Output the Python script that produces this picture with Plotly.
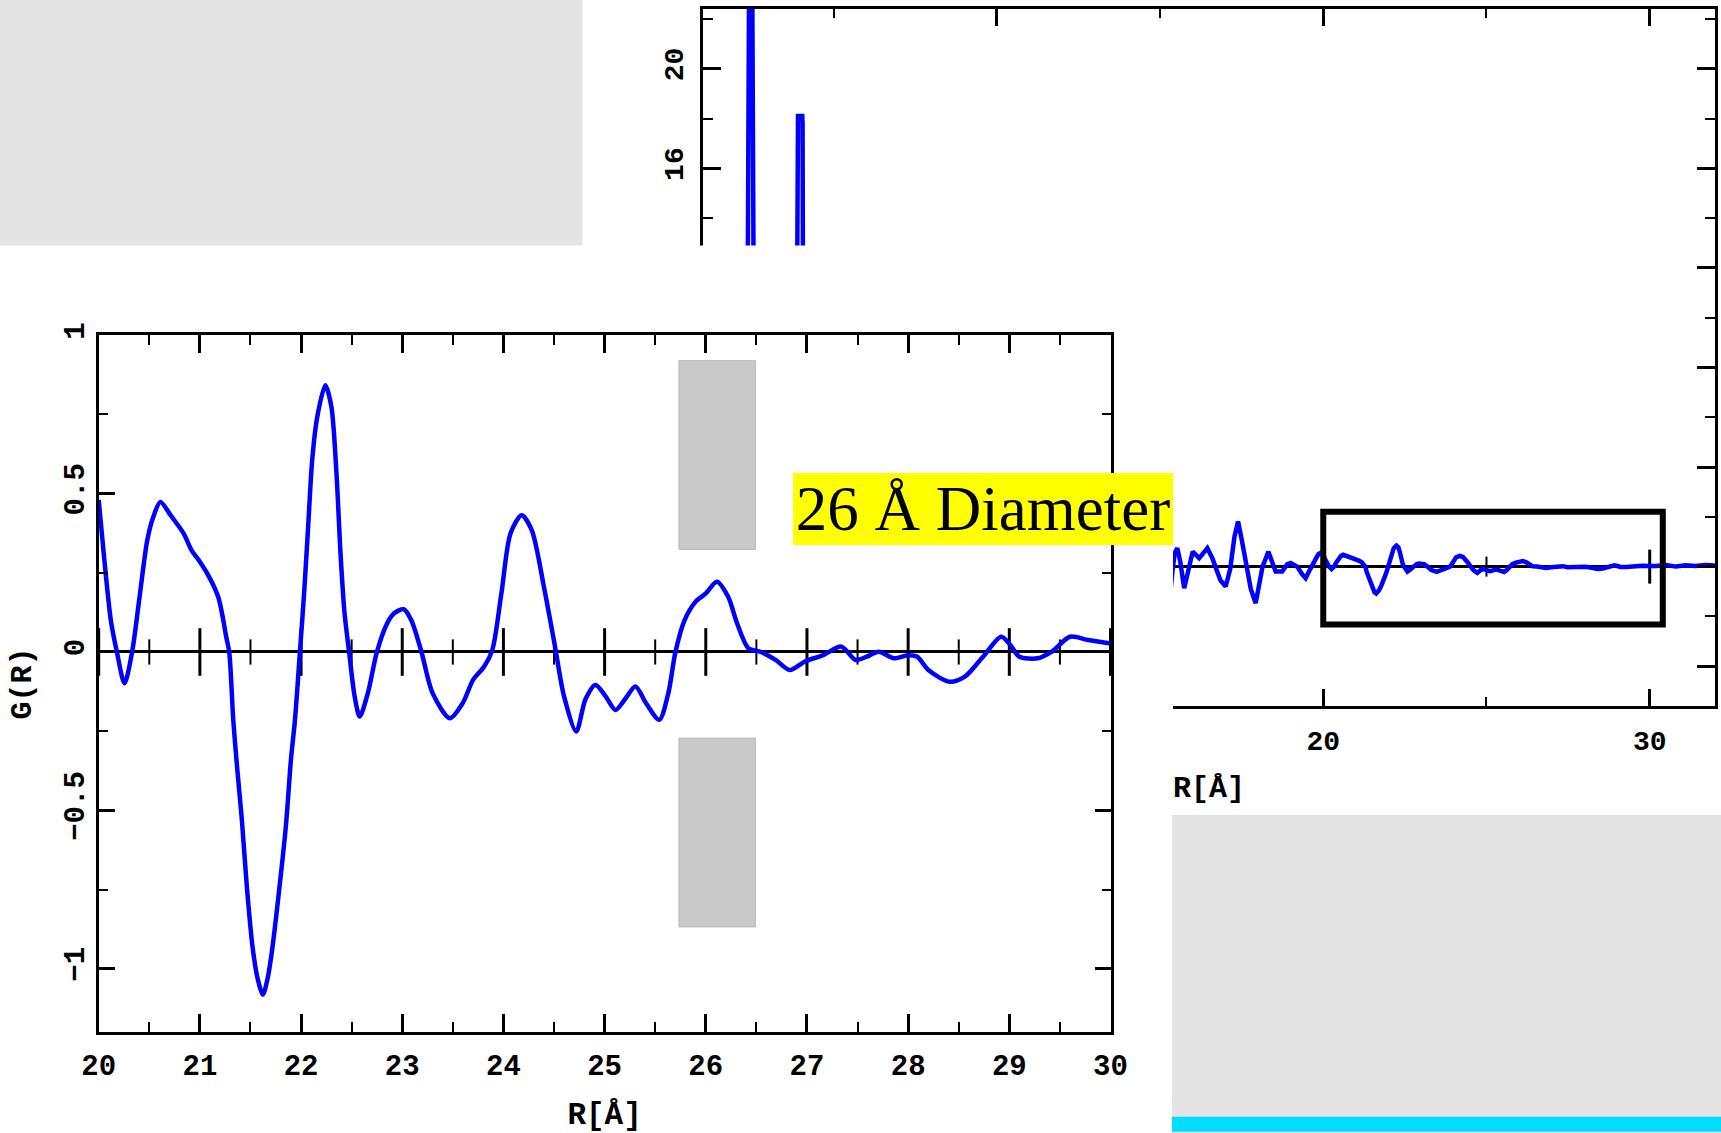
import plotly.graph_objects as go

# ---------------------------------------------------------------
# Pair distribution function G(R) of a 26 Å nanoparticle
# ---------------------------------------------------------------

# short range (1 - 15.3 Å)
r_short = [1.0, 1.8, 2.2, 2.30, 2.375, 2.40, 2.42, 2.50, 2.52, 2.545, 2.62, 2.7, 2.85, 3.2,
           3.6, 3.80, 3.89, 3.90, 3.91, 4.04, 4.05, 4.06, 4.14, 4.3, 4.6, 4.95, 5.3, 5.7,
           6.1, 6.5, 6.9, 7.25, 7.6, 8.1, 8.5, 8.8, 9.3, 9.8, 10.3, 10.8, 11.3, 11.8, 12.3,
           12.8, 13.3, 13.8, 14.3, 14.8, 15.3]
g_short = [-3.0, -4.5, -3.5, 0.0, 13.0, 19.7, 26.0, 26.0, 19.0, 13.0, 0.0, -1.5, 2.0, -2.0,
           -1.0, 0.0, 13.0, 16.9, 18.1, 18.1, 17.8, 13.0, 0.0, -1.5, 1.0, 8.5, -1.0, 2.5,
           -1.5, 5.0, -1.0, 4.0, -1.5, 3.0, -2.0, 2.5, -1.5, 2.0, -1.2, 1.5, -1.0, 1.5, -1.2,
           1.0, -0.8, 0.9, -0.7, 0.8, -1.25]

# intermediate range (15.3 - 20 Å)
r_mid = [15.38, 15.45, 15.53, 15.62, 15.74, 15.86, 16.0, 16.2, 16.45, 16.6, 16.71, 16.85,
         17.01, 17.15, 17.28, 17.39, 17.5, 17.63, 17.78, 17.93, 18.05, 18.14, 18.32, 18.45,
         18.54, 18.74, 18.9, 19.0, 19.2, 19.35, 19.46, 19.6, 19.72, 19.85, 19.93]
g_mid = [-0.2, 0.55, 0.74, 0.2, -0.87, -0.1, 0.6, 0.34, 0.74, 0.35, 0.0, -0.55,
         -0.8, -0.1, 1.2, 1.81, 1.1, 0.15, -0.9, -1.47, -0.7, 0.0, 0.6, 0.15,
         -0.2, -0.2, 0.1, 0.15, 0.0, -0.3, -0.47, -0.1, 0.2, 0.5, 0.56]

# enlarged window (20 - 30 Å)
r_zoom = [20.00, 20.05, 20.12, 20.18, 20.255, 20.33, 20.40, 20.48, 20.54, 20.61, 20.71,
          20.84, 20.92, 21.00, 21.09, 21.18, 21.22, 21.26, 21.29, 21.33, 21.37, 21.415,
          21.464, 21.52, 21.57, 21.623, 21.67, 21.71, 21.77, 21.85, 21.90, 21.94, 21.99,
          22.03, 22.07, 22.11, 22.16, 22.24, 22.30, 22.35, 22.39, 22.43, 22.475, 22.53,
          22.58, 22.66, 22.75, 22.85, 22.92, 23.015, 23.09, 23.19, 23.30, 23.47, 23.60,
          23.70, 23.81, 23.89, 23.98, 24.07, 24.18, 24.28, 24.40, 24.51, 24.60, 24.72,
          24.81, 24.91, 25.01, 25.107, 25.2, 25.305, 25.41, 25.54, 25.63, 25.70, 25.79,
          25.90, 26.00, 26.11, 26.22, 26.31, 26.42, 26.545, 26.69, 26.83, 26.98, 27.16,
          27.34, 27.48, 27.59, 27.71, 27.86, 28.00, 28.09, 28.20, 28.41, 28.56, 28.74,
          28.92, 29.01, 29.10, 29.28, 29.42, 29.60, 29.78, 30.00]
g_zoom = [0.48, 0.31, 0.10, 0.0, -0.099, 0.0, 0.164, 0.353, 0.427, 0.474, 0.432,
          0.374, 0.32, 0.285, 0.238, 0.175, 0.12, 0.048, 0.0, -0.2145, -0.372, -0.53,
          -0.74, -0.93, -1.03, -1.082, -1.03, -0.95, -0.79, -0.55, -0.34, -0.214, 0.006,
          0.185, 0.395, 0.606, 0.742, 0.842, 0.774, 0.564, 0.311, 0.122, 0.0, -0.141,
          -0.204, -0.13, 0.0, 0.09, 0.122, 0.135, 0.10, 0.0, -0.13, -0.209, -0.16,
          -0.088, -0.046, 0.006, 0.185, 0.374, 0.432, 0.385, 0.206, 0.017, -0.141, -0.251,
          -0.15, -0.104, -0.14, -0.183, -0.15, -0.109, -0.162, -0.214, -0.13, 0.0, 0.10,
          0.159, 0.185, 0.222, 0.175, 0.09, 0.012, 0.0, -0.025, -0.057, -0.03, -0.01,
          0.017, -0.025, -0.015, 0.001, -0.02, -0.01, -0.015, -0.057, -0.094, -0.078, -0.015,
          0.048, 0.022, -0.015, -0.02, 0.001, 0.048, 0.038, 0.027]

# long range tail (30 - 32 Å)
r_tail = [30.2, 30.5, 30.8, 31.1, 31.4, 31.7, 32.0]
g_tail = [0.02, 0.06, 0.0, 0.05, 0.02, 0.06, 0.04]

label_text = "26 Å Diameter"
x_title = "R[Å]"
y_title = "G(R)"

r_full = r_short + r_mid + r_zoom + r_tail
g_full = g_short + g_mid + g_zoom + g_tail

# ---------------------------------------------------------------
W, H = 1721, 1133


def fx(px):
    return px / W


def fy(py):
    return 1 - py / H


MONO = "Courier New, Liberation Mono, monospace"
SERIF = "Times New Roman, Liberation Serif, serif"
BLUE = "#0000ff"

big_range = [1, 32]
big_yrange = [-5.6, 22.4]
zoom_range = [20, 30]
zoom_yrange = [-1.2, 1.001]

# panel frames in page pixels (left, right, top, bottom)
BIG_BOX = (703, 1715, 9, 706)
ZOOM_BOX = (98.7, 1110.5, 335, 1032)


def framed(**kw):
    base = dict(showline=True, linecolor="black", linewidth=3, mirror="allticks",
                ticks="inside", tickcolor="black", tickwidth=3, showgrid=False,
                zeroline=False, automargin=False,
                tickfont=dict(family=MONO, size=29, color="black", weight="bold"))
    base.update(kw)
    return base


def tick_positions(start, stop, step):
    n = int(round((stop - start) / step))
    return [start + i * step for i in range(n + 1)]


fig = go.Figure()

# full-range curve
fig.add_trace(go.Scatter(x=r_full, y=g_full, mode="lines", xaxis="x", yaxis="y",
                         line=dict(color=BLUE, width=4.5), showlegend=False, hoverinfo="skip"))
# blank sheet laid over the lower-left part of the full-range panel
fig.add_trace(go.Scatter(x=[0.5], y=[0.5], mode="markers", xaxis="x2", yaxis="y2",
                         marker=dict(opacity=0), showlegend=False, hoverinfo="skip"))

# tick marks crossing the G=0 line of the enlarged panel (major every 1 Å, minor every 0.5 Å)
zt_major = tick_positions(20, 30, 1)
zt_minor = [t + 0.5 for t in tick_positions(20, 29, 1)]
for ticks_at, size, width in ((zt_major, 34, 3), (zt_minor, 18, 2)):
    fig.add_trace(go.Scatter(x=ticks_at, y=[0] * len(ticks_at), mode="markers",
                             xaxis="x3", yaxis="y3", cliponaxis=False,
                             marker=dict(symbol="line-ns", size=size, color="black",
                                         line=dict(color="black", width=width)),
                             showlegend=False, hoverinfo="skip"))

# enlarged 20-30 Å window
fig.add_trace(go.Scatter(x=r_zoom, y=g_zoom, mode="lines", xaxis="x3", yaxis="y3",
                         line=dict(color=BLUE, width=4.5, shape="spline", smoothing=0.8),
                         showlegend=False, hoverinfo="skip"))

fig.update_layout(
    width=W, height=H, autosize=False,
    margin=dict(l=0, r=0, t=0, b=0, pad=0),
    paper_bgcolor="white", plot_bgcolor="white",
    template="none", showlegend=False,
    # full-range panel
    xaxis=framed(domain=[fx(BIG_BOX[0]), fx(BIG_BOX[1])], range=big_range, anchor="y",
                 dtick=10, tick0=0, ticklen=17, ticklabelstandoff=7,
                 tickfont=dict(family=MONO, size=28, color="black", weight="bold"),
                 minor=dict(ticks="inside", ticklen=9, tickwidth=2, tickcolor="black",
                            dtick=5, showgrid=False),
                 title=dict(text=x_title, standoff=20,
                            font=dict(family=MONO, size=30, color="black", weight="bold"))),
    yaxis=framed(domain=[fy(BIG_BOX[3]), fy(BIG_BOX[2])], range=big_yrange, anchor="x",
                 dtick=4, tick0=0, ticklen=18, tickangle=-90, ticklabelstandoff=6,
                 zeroline=True, zerolinecolor="black", zerolinewidth=3,
                 tickfont=dict(family=MONO, size=28, color="black", weight="bold"),
                 minor=dict(ticks="inside", ticklen=10, tickwidth=2, tickcolor="black",
                            dtick=2, showgrid=False)),
    # blank sheet
    xaxis2=dict(domain=[0, fx(1173)], range=[0, 1], visible=False, anchor="y2"),
    yaxis2=dict(domain=[0, fy(245.5)], range=[0, 1], visible=False, anchor="x2"),
    # enlarged panel
    xaxis3=framed(domain=[fx(ZOOM_BOX[0]), fx(ZOOM_BOX[1])], range=zoom_range, anchor="y3",
                  dtick=1, tick0=0, ticklen=18, ticklabelstandoff=5,
                  minor=dict(ticks="inside", ticklen=10, tickwidth=2, tickcolor="black",
                             dtick=0.5, showgrid=False),
                  title=dict(text=x_title, standoff=24,
                             font=dict(family=MONO, size=31, color="black", weight="bold"))),
    yaxis3=framed(domain=[fy(ZOOM_BOX[3]), fy(ZOOM_BOX[2])], range=zoom_yrange, anchor="x3",
                  dtick=0.5, tick0=0, ticklen=16, tickangle=-90, ticklabelstandoff=0,
                  zeroline=True, zerolinecolor="black", zerolinewidth=3,
                  minor=dict(ticks="inside", ticklen=9, tickwidth=2, tickcolor="black",
                             dtick=0.25, showgrid=False),
                  title=dict(text=y_title, standoff=20,
                             font=dict(family=MONO, size=30, color="black", weight="bold"))),
)

shapes = [
    # grey sheets at the page corners
    dict(type="rect", xref="paper", yref="paper", x0=0, x1=fx(582.5), y0=fy(245.5), y1=1,
         fillcolor="#e4e4e4", line=dict(width=0), layer="above"),
    dict(type="rect", xref="paper", yref="paper", x0=fx(1172), x1=1, y0=0, y1=fy(815),
         fillcolor="#e4e4e4", line=dict(width=0), layer="above"),
    dict(type="rect", xref="paper", yref="paper", x0=fx(1172), x1=1, y0=fy(1131.7),
         y1=fy(1116.7), fillcolor="#00ddff", line=dict(width=0), layer="above"),
    # frame around the 20-30 Å window on the full-range panel
    dict(type="rect", xref="x", yref="y", x0=20, x1=30.4, y0=-2.33, y1=2.2,
         line=dict(color="black", width=6), fillcolor="rgba(0,0,0,0)", layer="above"),
    # grey markers bracketing 26 Å in the enlarged panel
    dict(type="rect", xref="x3", yref="y3", x0=25.735, x1=26.49, y0=0.324, y1=0.92,
         fillcolor="#c9c9c9", line=dict(color="#b5b5b5", width=1), layer="above"),
    dict(type="rect", xref="x3", yref="y3", x0=25.735, x1=26.49, y0=-0.868, y1=-0.272,
         fillcolor="#c9c9c9", line=dict(color="#b5b5b5", width=1), layer="above"),
]

# tick marks crossing the G=0 line of the full-range panel; they sit in the panel's
# own layer so the blank sheet hides the ones below 15 Å
per_px = (big_yrange[1] - big_yrange[0]) / (BIG_BOX[3] - BIG_BOX[2])
for t in tick_positions(5, 30, 5):
    major = t % 10 == 0
    half = (17 if major else 10) * per_px
    shapes.append(dict(type="line", xref="x", yref="y", x0=t, x1=t, y0=-half, y1=half,
                       line=dict(color="black", width=3 if major else 2), layer="between"))
fig.update_layout(shapes=shapes)

fig.add_annotation(
    text=label_text, xref="paper", yref="paper", x=fx(792.7), y=fy(473.3),
    xanchor="left", yanchor="top", showarrow=False, align="center",
    width=380, height=72, bgcolor="#ffff00", borderpad=0, borderwidth=0,
    font=dict(family=SERIF, size=63, color="black"))

fig.write_html("out.html")
